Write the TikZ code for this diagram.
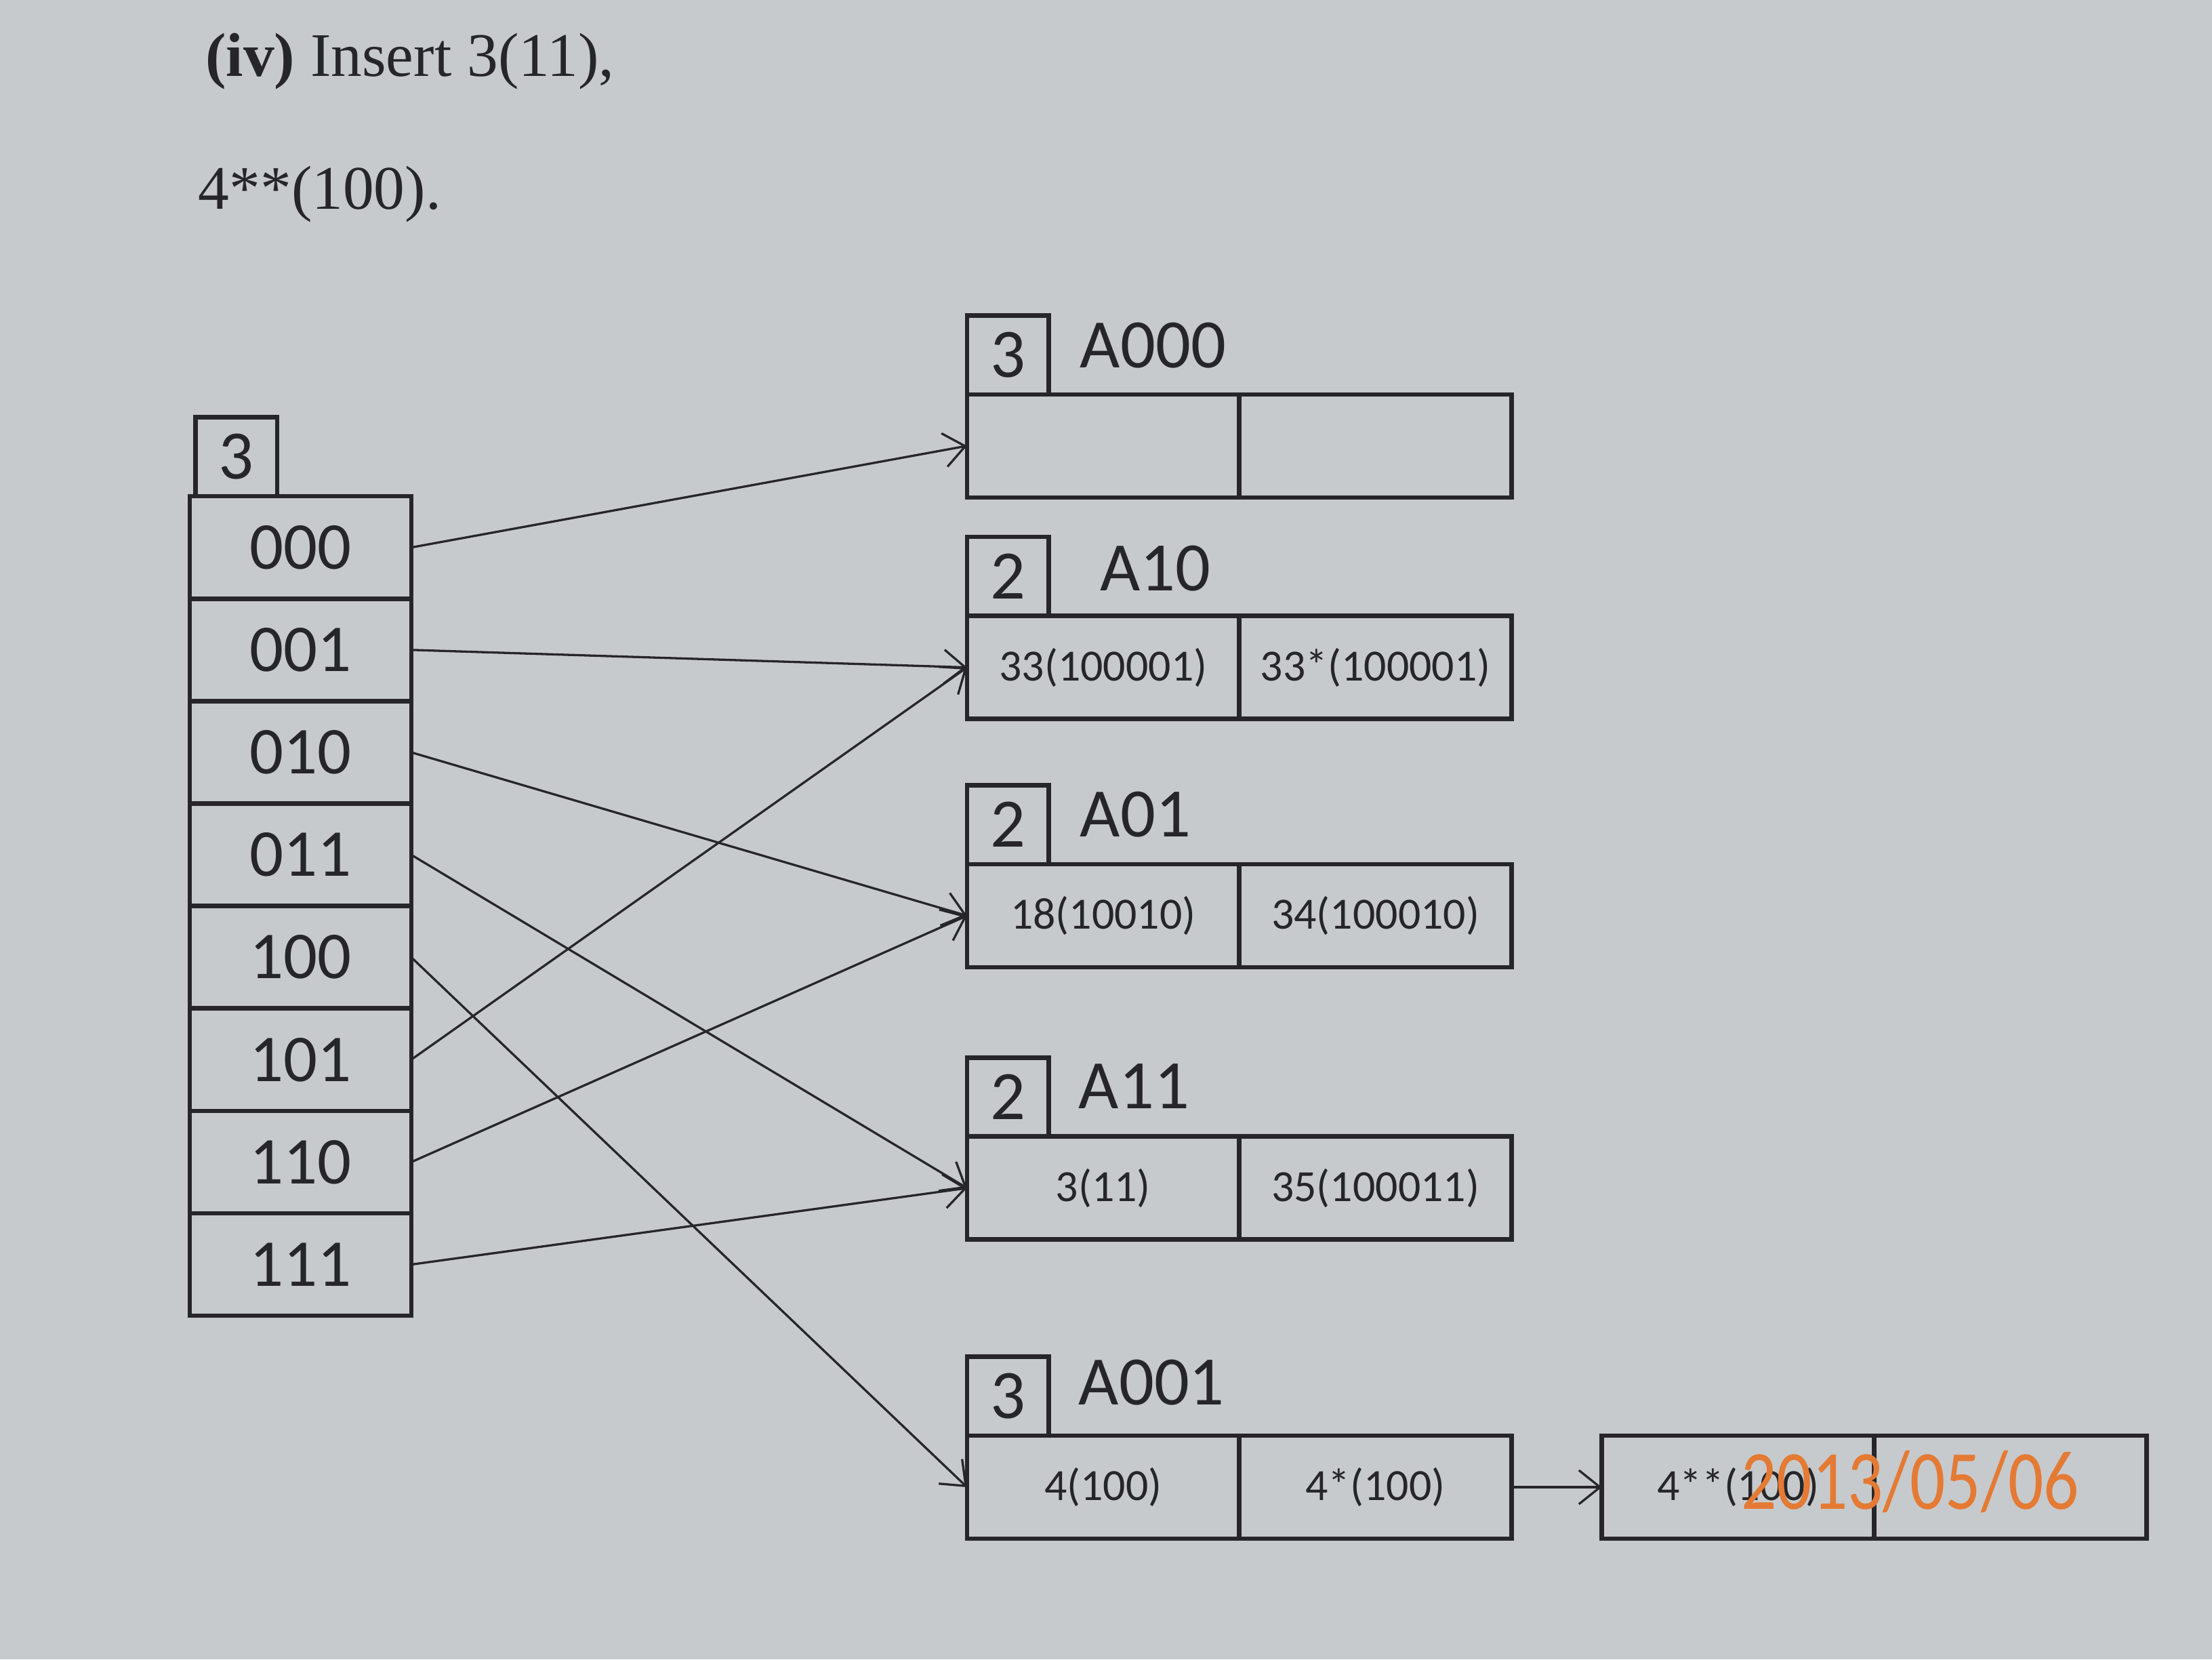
\documentclass[tikz,border=0pt]{standalone}
\usepackage{fontspec}
\setmainfont{Liberation Serif}
\newfontfamily\calibri{Carlito}
\usetikzlibrary{positioning,arrows.meta}

\definecolor{paper}{RGB}{199,202,204}
\definecolor{ink}{RGB}{38,38,42}
\definecolor{stamp}{RGB}{228,122,52}

\tikzset{
	cell/.style={draw=ink, line width=0.9pt, inner sep=0pt, outer sep=0pt,
		minimum width=15.7mm, minimum height=7.26mm,
		font=\calibri\fontsize{13.5}{14}\selectfont, text=ink},
	depthbox/.style={draw=ink, line width=0.9pt, inner sep=0pt, outer sep=0pt,
		minimum width=5.8mm, minimum height=5.6mm,
		font=\calibri\fontsize{14}{15}\selectfont, text=ink},
	slot/.style={cell, minimum width=19.3mm, minimum height=7.3mm,
		font=\calibri\fontsize{9}{10}\selectfont},
	bname/.style={anchor=west, inner sep=0pt, text=ink,
		font=\calibri\fontsize{14}{15}\selectfont},
	ptr/.style={draw=ink, line width=0.45pt,
		-{Straight Barb[length=1.5mm,width=2.4mm]}},
}

\begin{document}
\begin{tikzpicture}[x=0.1mm, y=-0.1mm]
	\useasboundingbox (0,0) rectangle (1568,1176);
	\fill[paper] (0,0) rectangle (1568,1176);
	% question text
	\node[anchor=base west, inner sep=0pt, text=ink, font=\fontsize{12.5}{14}\selectfont] (title) at (145,54) {\textbf{(iv)} Insert 3(11),};
	\node[anchor=base west, inner sep=0pt, text=ink, font=\fontsize{12.5}{14}\selectfont] (title2) at (140,148) {4**(100).};
	% directory
	\node[cell] (dir000) at (213,388) {000};
	\node[cell, below=0pt of dir000] (dir001) {001};
	\node[cell, below=0pt of dir001] (dir010) {010};
	\node[cell, below=0pt of dir010] (dir011) {011};
	\node[cell, below=0pt of dir011] (dir100) {100};
	\node[cell, below=0pt of dir100] (dir101) {101};
	\node[cell, below=0pt of dir101] (dir110) {110};
	\node[cell, below=0pt of dir110] (dir111) {111};
	\node[depthbox, anchor=south west] (gdepth) at ([xshift=0.4mm]dir000.north west) {3};
	% buckets
	\node[slot] (A000l) at (782,316) {};
	\node[slot, right=0pt of A000l] (A000r) {};
	\node[depthbox, anchor=south west] (A000d) at (A000l.north west) {3};
	\node[bname] (A000n) at (765,245) {A000};

	\node[slot] (A10l) at (782,473) {33(100001)};
	\node[slot, right=0pt of A10l] (A10r) {33*(100001)};
	\node[depthbox, anchor=south west] (A10d) at (A10l.north west) {2};
	\node[bname] (A10n) at (779,403) {A10};

	\node[slot] (A01l) at (782,649) {18(10010)};
	\node[slot, right=0pt of A01l] (A01r) {34(100010)};
	\node[depthbox, anchor=south west] (A01d) at (A01l.north west) {2};
	\node[bname] (A01n) at (765,577) {A01};

	\node[slot] (A11l) at (782,842) {3(11)};
	\node[slot, right=0pt of A11l] (A11r) {35(100011)};
	\node[depthbox, anchor=south west] (A11d) at (A11l.north west) {2};
	\node[bname] (A11n) at (764,770) {A11};

	\node[slot] (A001l) at (782,1054) {4(100)};
	\node[slot, right=0pt of A001l] (A001r) {4*(100)};
	\node[depthbox, anchor=south west] (A001d) at (A001l.north west) {3};
	\node[bname] (A001n) at (764,980) {A001};

	\node[slot] (ovfl) at (1232,1054) {4**(100)};
	\node[slot, right=0pt of ovfl] (ovflr) {};
	% pointers
	\draw[ptr] (dir000.east) -- (A000l.west);
	\draw[ptr] (dir001.east) -- (A10l.west);
	\draw[ptr] (dir010.east) -- (A01l.west);
	\draw[ptr] (dir011.east) -- (A11l.west);
	\draw[ptr] (dir100.east) -- (A001l.west);
	\draw[ptr] (dir101.east) -- (A10l.west);
	\draw[ptr] (dir110.east) -- (A01l.west);
	\draw[ptr] (dir111.east) -- (A11l.west);
	\draw[ptr] (A001r.east) -- (ovfl.west);
	% camera date
	\node[text=stamp, inner sep=0pt, xscale=0.83, font=\calibri\fontsize{17}{18}\selectfont] (date) at (1354,1050) {2013/05/06};
\end{tikzpicture}
\end{document}
